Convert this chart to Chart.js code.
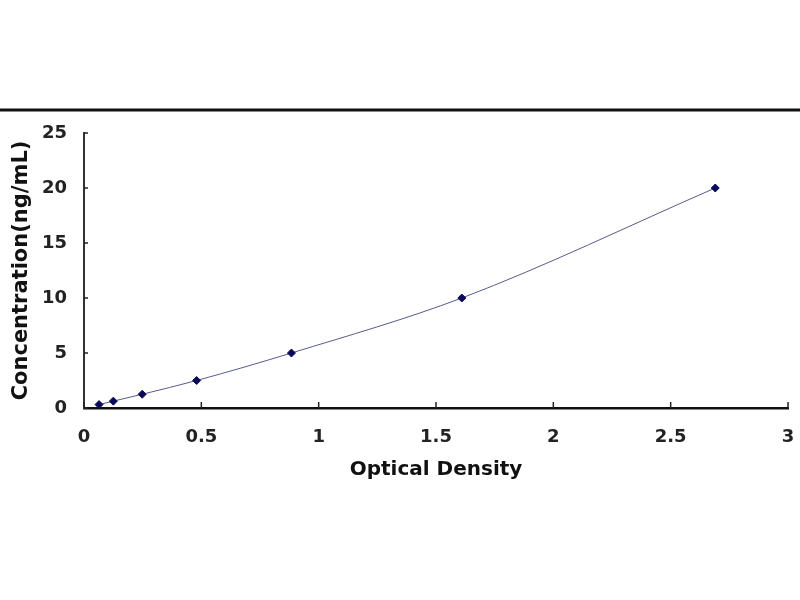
<!DOCTYPE html>
<html>
<head>
<meta charset="utf-8">
<script src="https://cdn.jsdelivr.net/npm/chart.js@4.4.1/dist/chart.umd.min.js"></script>
<style>
html,body{margin:0;padding:0;background:#fff;}
#wrap{position:relative;width:800px;height:600px;}
</style>
</head>
<body>
<div id="wrap"><canvas id="c" width="800" height="600"></canvas></div>
<script>
const opticalDensity = [0.064, 0.125, 0.248, 0.48, 0.884, 1.61, 2.69];
const concentration = [0.312, 0.625, 1.25, 2.5, 5, 10, 20];
const xTicks = [0, 0.5, 1, 1.5, 2, 2.5, 3];
const yTicks = [0, 5, 10, 15, 20, 25];
const xTitle = 'Optical Density';
const yTitle = 'Concentration(ng/mL)';

const points = opticalDensity.map((x, i) => ({x: x, y: concentration[i]}));

const decor = {
  id: 'decor',
  beforeDraw(chart) {
    const ctx = chart.ctx;
    ctx.save();
    ctx.fillStyle = '#fff';
    ctx.fillRect(0, 0, chart.width, chart.height);
    ctx.strokeStyle = '#111';
    ctx.lineWidth = 3;
    ctx.beginPath();
    ctx.moveTo(0, 110);
    ctx.lineTo(chart.width, 110);
    ctx.stroke();
    ctx.restore();
  },
  afterDraw(chart) {
    const ctx = chart.ctx;
    const xs = chart.scales.x, ys = chart.scales.y;
    const area = chart.chartArea;
    ctx.save();
    ctx.strokeStyle = '#222';
    ctx.lineWidth = 1.5;
    xTicks.forEach(v => {
      const px = xs.getPixelForValue(v);
      ctx.beginPath();
      ctx.moveTo(px, area.bottom);
      ctx.lineTo(px, area.bottom - 6);
      ctx.stroke();
    });
    yTicks.forEach(v => {
      const py = ys.getPixelForValue(v);
      ctx.beginPath();
      ctx.moveTo(area.left, py);
      ctx.lineTo(area.left + 4, py);
      ctx.stroke();
    });
    ctx.restore();
  }
};

new Chart(document.getElementById('c'), {
  type: 'scatter',
  data: {
    datasets: [{
      data: points,
      showLine: true,
      borderColor: '#5a5a90',
      borderWidth: 1,
      cubicInterpolationMode: 'monotone',
      pointStyle: 'rectRot',
      pointRadius: 4,
      pointBackgroundColor: '#0a0a5a',
      pointBorderColor: '#0a0a5a',
      pointBorderWidth: 1
    }]
  },
  options: {
    responsive: false,
    animation: false,
    devicePixelRatio: 1,
    layout: {padding: {left: 0, right: 0, top: 133, bottom: 0}},
    plugins: {legend: {display: false}, tooltip: {enabled: false}},
    scales: {
      x: {
        type: 'linear',
        min: 0, max: 3,
        afterBuildTicks(s) { s.ticks = xTicks.map(v => ({value: v})); },
        afterFit(s) { s.height = 192; s.paddingRight = 12; s.paddingLeft = 0; },
        border: {display: true, color: '#111', width: 2.5},
        grid: {display: true, drawOnChartArea: false, drawTicks: false},
        ticks: {
          padding: 19,
          color: '#222',
          font: {family: 'DejaVu Sans', size: 18, weight: 'bold'},
          callback: v => String(v)
        },
        title: {
          display: true,
          text: xTitle,
          color: '#111',
          font: {family: 'DejaVu Sans', size: 20, weight: 'bold'},
          padding: {top: 0, bottom: 118}
        }
      },
      y: {
        type: 'linear',
        min: 0, max: 25,
        afterBuildTicks(s) { s.ticks = yTicks.map(v => ({value: v})); },
        afterFit(s) { s.width = 84; },
        border: {display: true, color: '#333', width: 2},
        grid: {display: true, drawOnChartArea: false, drawTicks: false},
        ticks: {
          padding: 17,
          color: '#222',
          font: {family: 'DejaVu Sans', size: 18, weight: 'bold'},
          callback: v => String(v)
        },
        title: {
          display: true,
          text: yTitle,
          color: '#111',
          font: {family: 'DejaVu Sans', size: 21, weight: 'bold'},
          padding: {top: 9, bottom: 0}
        }
      }
    }
  },
  plugins: [decor]
});
</script>
</body>
</html>
